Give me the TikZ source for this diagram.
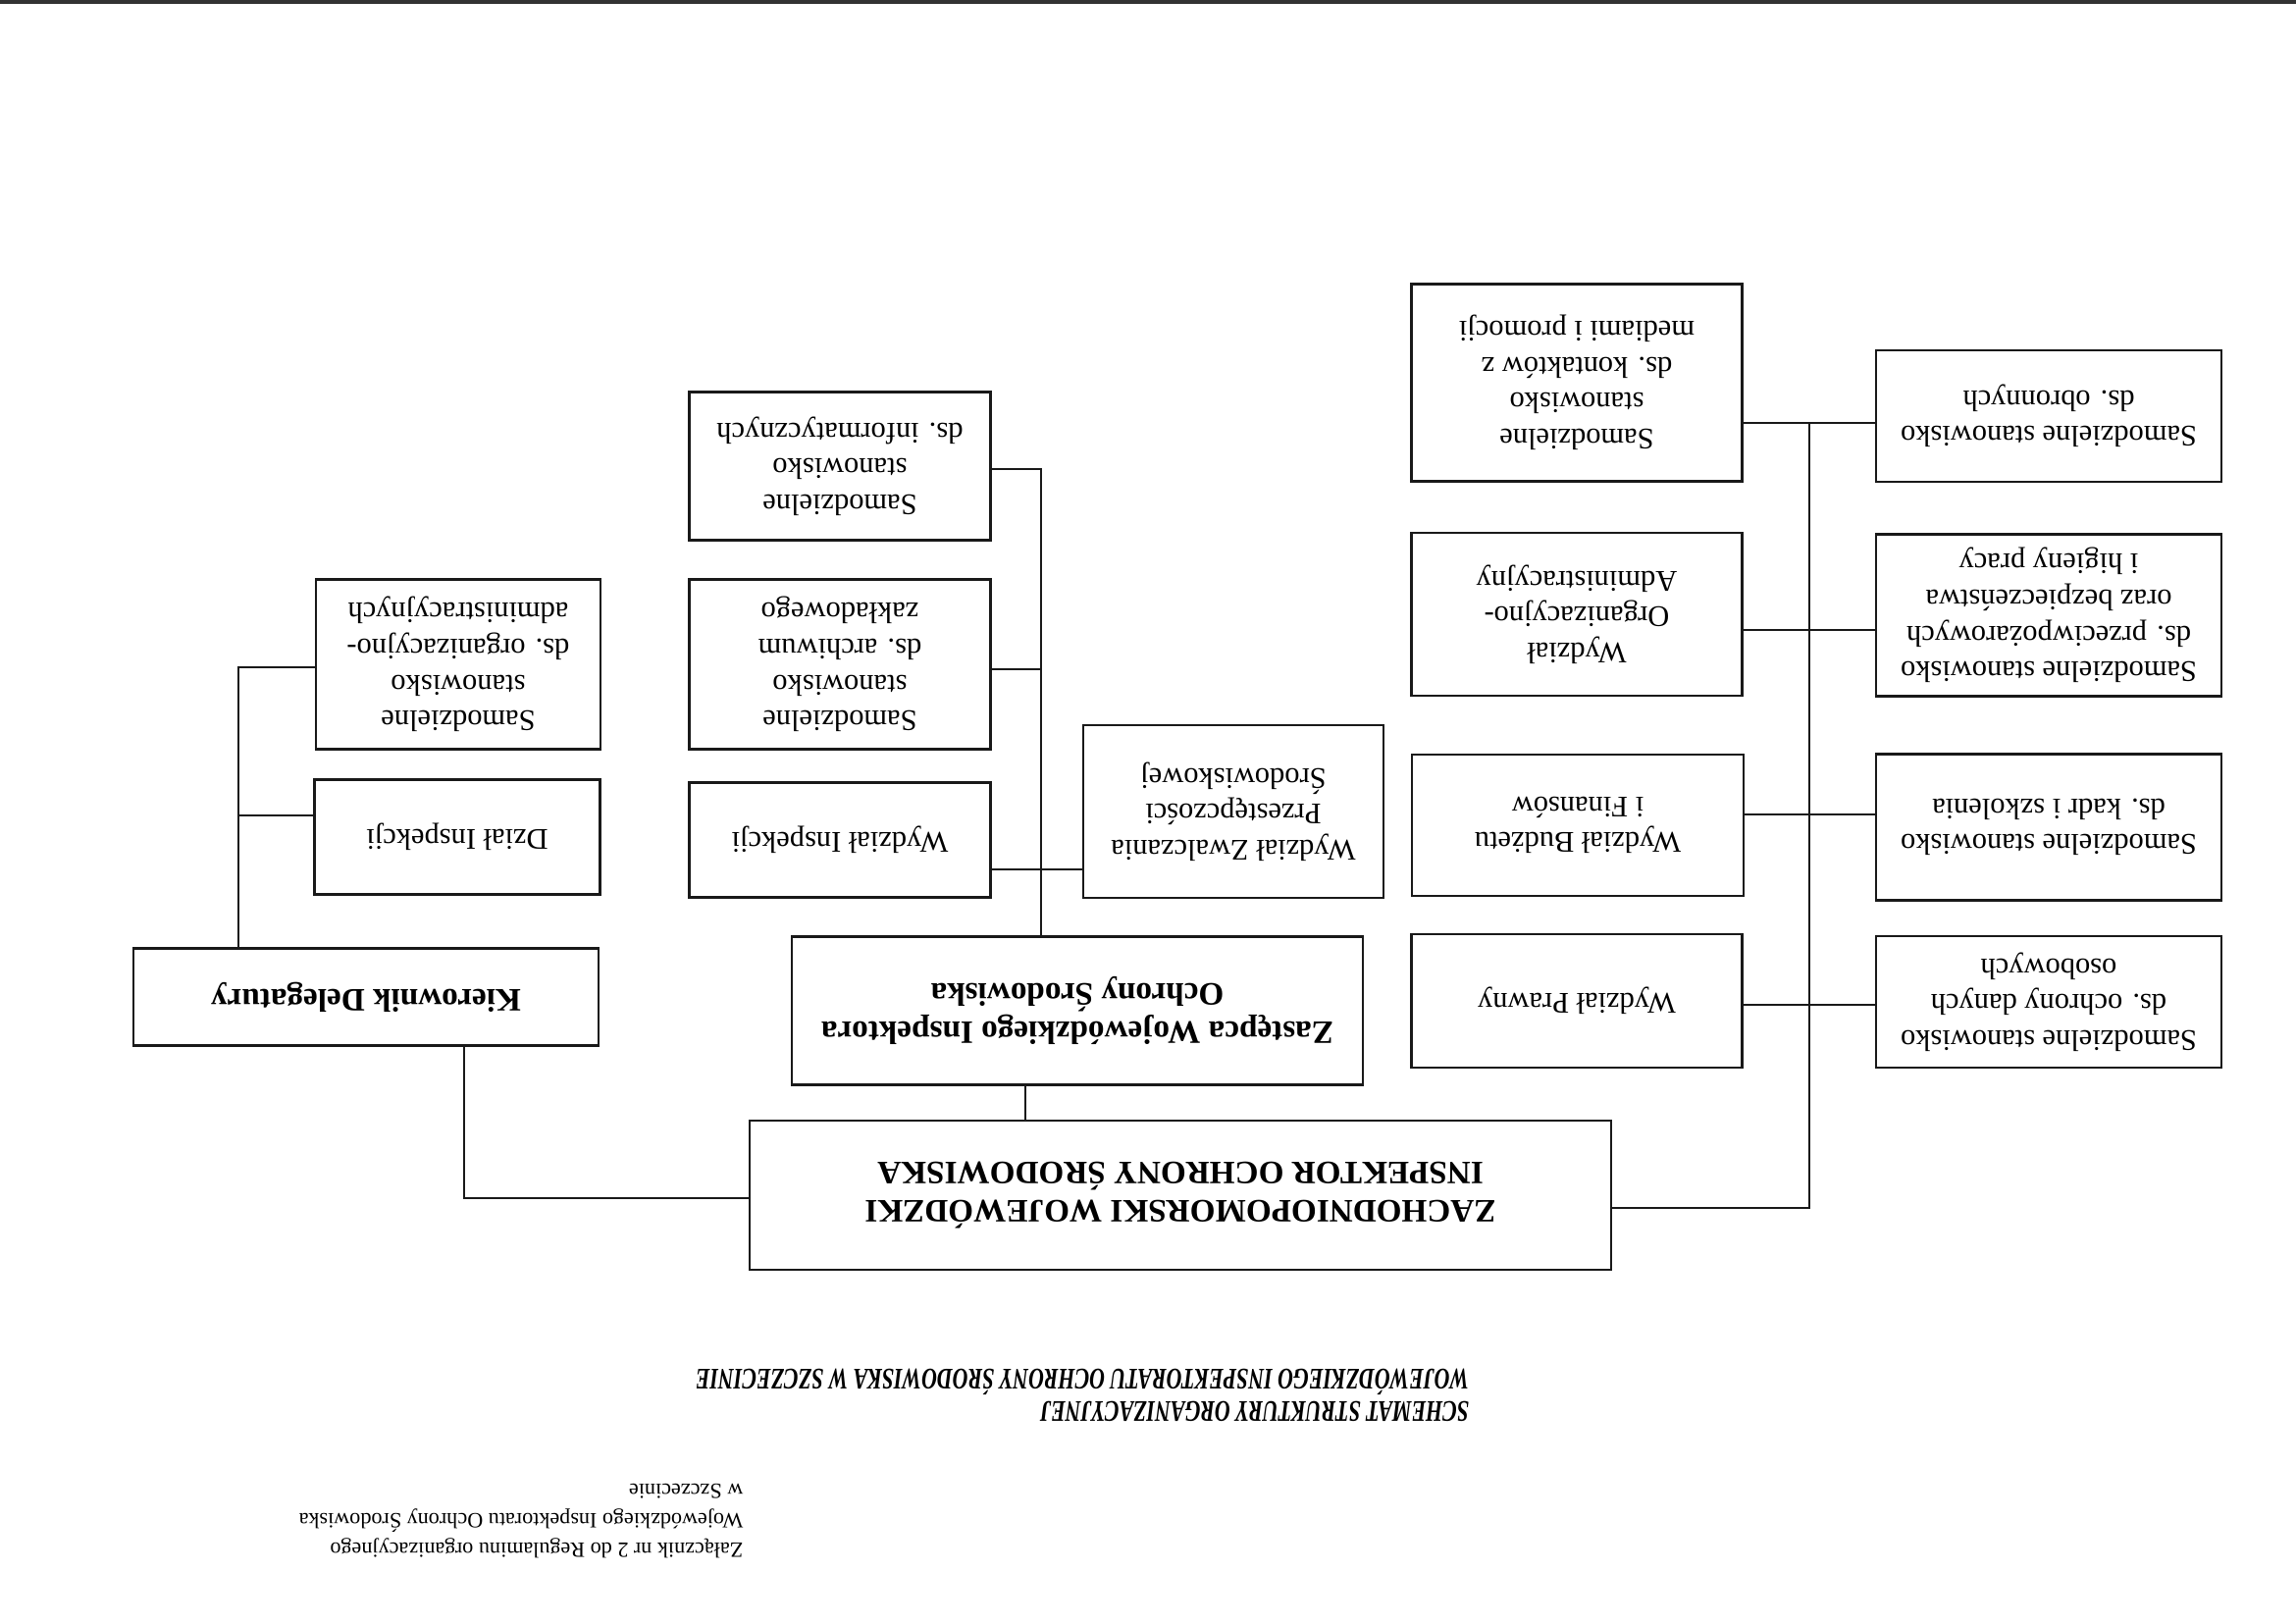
\documentclass[tikz,border=0pt]{standalone}
\usepackage{fontspec}
\setmainfont{Liberation Serif}
\newfontfamily\titlefont[FakeStretch=0.72]{Liberation Serif}
\begin{document}
\begin{tikzpicture}[x=0.127mm, y={(0mm,-0.127mm)},
  bx/.style={draw=black!90, line width=1pt, rotate=180, inner sep=2pt, align=center,
    font=\fontsize{11}{13.2}\selectfont},
  bxb/.style={bx, font=\fontsize{12}{14}\selectfont\bfseries},
  sz/.style 2 args={minimum width=#1*0.127mm, minimum height=#2*0.127mm},
  ln/.style={draw=black!90, line width=0.9pt}]
\useasboundingbox (0,0) rectangle (2340,1654);
\fill[white] (0,0) rectangle (2340,1654);
\fill[black!80] (0,0) rectangle (2340,4);

% right group
\node[bx, sz={337}{201}] (media) at (1607,390) {Samodzielne\\stanowisko\\ds. kontaktów z\\mediami i promocji};
\node[bx, sz={352}{134}] (obr) at (2088,424) {Samodzielne stanowisko\\ds. obronnych};
\node[bx, sz={337}{166}] (orgadm) at (1607,626) {Wydział\\Organizacyjno-\\Administracyjny};
\node[bx, sz={352}{165}] (ppoz) at (2088,627) {Samodzielne stanowisko\\ds. przeciwpożarowych\\oraz bezpieczeństwa\\i higieny pracy};
\node[bx, sz={338}{144}] (budzet) at (1608,841) {Wydział Budżetu\\i Finansów};
\node[bx, sz={352}{149}] (kadr) at (2088,843) {Samodzielne stanowisko\\ds. kadr i szkolenia};
\node[bx, sz={337}{136}] (prawny) at (1607,1020) {Wydział Prawny};
\node[bx, sz={352}{134}] (dane) at (2088,1021) {Samodzielne stanowisko\\ds. ochrony danych\\osobowych};

% main
\node[bxb, sz={878}{152}] (main) at (1203,1218) {ZACHODNIOPOMORSKI WOJEWÓDZKI\\INSPEKTOR OCHRONY ŚRODOWISKA};

% middle group
\node[bxb, sz={582}{151}] (zast) at (1098,1030) {Zastępca Wojewódzkiego Inspektora\\Ochrony Środowiska};
\node[bx, sz={306}{176}] (zwalcz) at (1257,827) {Wydział Zwalczania\\Przestępczości\\Środowiskowej};
\node[bx, sz={307}{117}] (winsp) at (856,856) {Wydział Inspekcji};
\node[bx, sz={307}{173}] (arch) at (856,677) {Samodzielne\\stanowisko\\ds. archiwum\\zakładowego};
\node[bx, sz={307}{151}] (inform) at (856,475) {Samodzielne\\stanowisko\\ds. informatycznych};

% left group
\node[bxb, sz={474}{99}] (kier) at (373,1016) {Kierownik Delegatury};
\node[bx, sz={291}{117}] (dzial) at (466,853) {Dział Inspekcji};
\node[bx, sz={290}{173}] (ssorg) at (467,677) {Samodzielne\\stanowisko\\ds. organizacyjno-\\administracyjnych};

% right connectors
\coordinate (rtop) at (1844,431);
\coordinate (rbot) at (1844,1231);
\draw[ln] (main.west |- rbot) -- (rbot) -- (rtop);
\draw[ln] (media.west |- rtop) -- (obr.east |- rtop);
\coordinate (r2) at (1844,642);
\draw[ln] (orgadm.west |- r2) -- (ppoz.east |- r2);
\coordinate (r3) at (1844,830);
\draw[ln] (budzet.west |- r3) -- (kadr.east |- r3);
\coordinate (r4) at (1844,1024);
\draw[ln] (prawny.west |- r4) -- (dane.east |- r4);

% main to deputy
\coordinate (zm) at (1045,1120);
\draw[ln] (zast.north -| zm) -- (main.south -| zm);

% main to delegation head
\coordinate (lk) at (473,1221);
\draw[ln] (main.east |- lk) -- (lk) -- (kier.north -| lk);

% deputy connectors
\coordinate (ztop) at (1061,478);
\draw[ln] (zast.south -| ztop) -- (ztop) -- (inform.west |- ztop);
\coordinate (z2) at (1061,682);
\draw[ln] (arch.west |- z2) -- (z2);
\coordinate (z3) at (1061,886);
\draw[ln] (winsp.west |- z3) -- (zwalcz.east |- z3);

% delegation connectors
\coordinate (ktop) at (243,680);
\draw[ln] (kier.south -| ktop) -- (ktop) -- (ssorg.east |- ktop);
\coordinate (k2) at (243,831);
\draw[ln] (k2) -- (dzial.east |- k2);

% title and note
\node[rotate=180, align=left, inner sep=0, font=\titlefont\fontsize{11}{12}\selectfont\bfseries\itshape] (title) at (1103,1422)
  {SCHEMAT STRUKTURY ORGANIZACYJNEJ\\WOJEWÓDZKIEGO INSPEKTORATU OCHRONY ŚRODOWISKA W SZCZECINIE};
\node[rotate=180, align=left, inner sep=0, font=\fontsize{8}{11}\selectfont] (note) at (531,1550)
  {Załącznik nr 2 do Regulaminu organizacyjnego\\Wojewódzkiego Inspektoratu Ochrony Środowiska\\w Szczecinie};
\end{tikzpicture}
\end{document}
